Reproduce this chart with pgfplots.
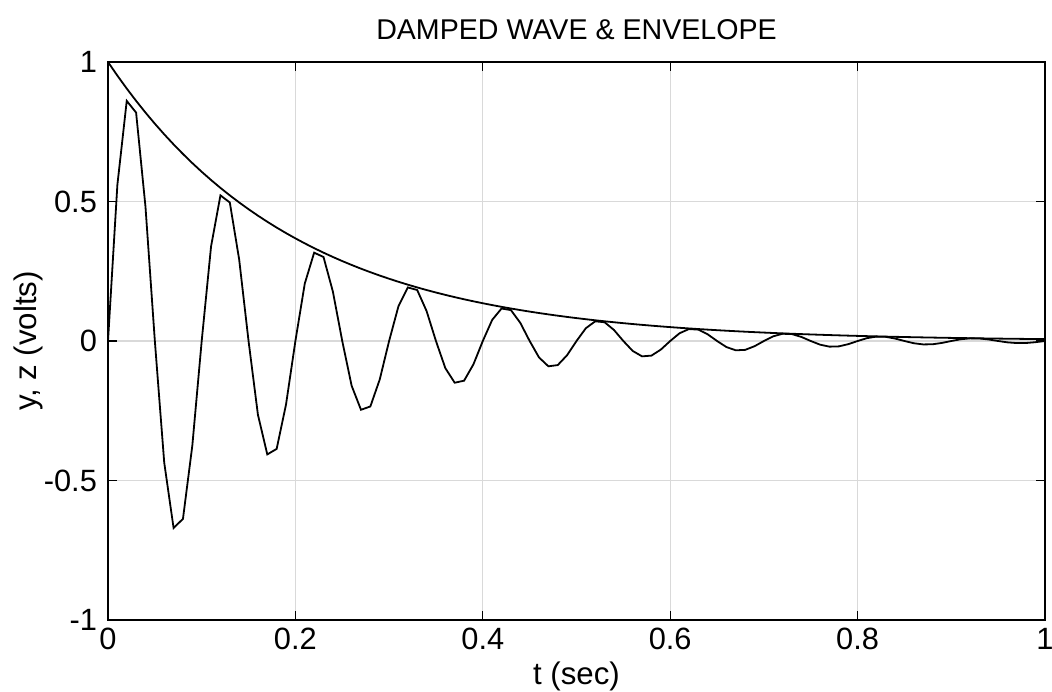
\documentclass[border=0pt]{standalone}
\usepackage{pgfplots}
\pgfplotsset{compat=1.18}
\usetikzlibrary{calc}
\usepackage{fontspec}
\setmainfont{Liberation Sans}
\definecolor{gridgray}{RGB}{217,217,217}
\begin{document}
\begin{tikzpicture}[x=1pt,y=1pt]
\begin{axis}[name=ax,
  scale only axis, width=468.5pt, height=279pt,
  xmin=0, xmax=1, ymin=-1, ymax=1,
  xtick={0,0.2,...,1}, ytick={-1,-0.5,0,0.5,1},
  xticklabels={0,0.2,0.4,0.6,0.8,1},
  yticklabels={-1,-0.5,0,0.5,1},
  tick align=inside, tick pos=both,
  major tick length=4.5pt,
  grid=major, major grid style={gridgray, line width=0.6pt},
  axis line style={line width=0.9pt},
  every tick/.style={black, line width=0.6pt},
  tick label style={font=\fontsize{15.4}{17}\selectfont},
  /pgf/number format/assume math mode=true,
  xticklabel style={yshift=-0.5pt},
  yticklabel style={xshift=-2pt},
  clip=false,
]
\addplot[black, line width=0.9pt] table {
x y
0.00 0
0.01 0.55912
0.02 0.86055
0.03 0.81858
0.04 0.48124
0.05 0
0.06 -0.43544
0.07 -0.67020
0.08 -0.63751
0.09 -0.37479
0.10 0
0.11 0.33912
0.12 0.52195
0.13 0.49650
0.14 0.29189
0.15 0
0.16 -0.26411
0.17 -0.40650
0.18 -0.38667
0.19 -0.22732
0.20 0
0.21 0.20569
0.22 0.31658
0.23 0.30114
0.24 0.17704
0.25 0
0.26 -0.16019
0.27 -0.24655
0.28 -0.23453
0.29 -0.13788
0.30 0
0.31 0.12476
0.32 0.19202
0.33 0.18265
0.34 0.10738
0.35 0
0.36 -0.09716
0.37 -0.14954
0.38 -0.14225
0.39 -0.08363
0.40 0
0.41 0.07567
0.42 0.11646
0.43 0.11078
0.44 0.06513
0.45 0
0.46 -0.05893
0.47 -0.09070
0.48 -0.08628
0.49 -0.05072
0.50 0
0.51 0.04590
0.52 0.07064
0.53 0.06719
0.54 0.03950
0.55 0
0.56 -0.03574
0.57 -0.05501
0.58 -0.05233
0.59 -0.03076
0.60 0
0.61 0.02784
0.62 0.04284
0.63 0.04075
0.64 0.02396
0.65 0
0.66 -0.02168
0.67 -0.03337
0.68 -0.03174
0.69 -0.01866
0.70 0
0.71 0.01688
0.72 0.02599
0.73 0.02472
0.74 0.01453
0.75 0
0.76 -0.01315
0.77 -0.02024
0.78 -0.01925
0.79 -0.01132
0.80 0
0.81 0.01024
0.82 0.01576
0.83 0.01499
0.84 0.00881
0.85 0
0.86 -0.00798
0.87 -0.01228
0.88 -0.01168
0.89 -0.00686
0.90 0
0.91 0.00621
0.92 0.00956
0.93 0.00909
0.94 0.00535
0.95 0
0.96 -0.00484
0.97 -0.00745
0.98 -0.00708
0.99 -0.00416
1.00 0
};
\addplot[black, line width=0.9pt] table {
x y
0.00 1
0.01 0.951229
0.02 0.904837
0.03 0.860708
0.04 0.818731
0.05 0.778801
0.06 0.740818
0.07 0.704688
0.08 0.670320
0.09 0.637628
0.10 0.606531
0.11 0.576950
0.12 0.548812
0.13 0.522046
0.14 0.496585
0.15 0.472367
0.16 0.449329
0.17 0.427415
0.18 0.406570
0.19 0.386741
0.20 0.367879
0.21 0.349938
0.22 0.332871
0.23 0.316637
0.24 0.301194
0.25 0.286505
0.26 0.272532
0.27 0.259240
0.28 0.246597
0.29 0.234570
0.30 0.223130
0.31 0.212248
0.32 0.201897
0.33 0.192050
0.34 0.182684
0.35 0.173774
0.36 0.165299
0.37 0.157237
0.38 0.149569
0.39 0.142274
0.40 0.135335
0.41 0.128735
0.42 0.122456
0.43 0.116484
0.44 0.110803
0.45 0.105399
0.46 0.100259
0.47 0.095369
0.48 0.090718
0.49 0.086294
0.50 0.082085
0.51 0.078082
0.52 0.074274
0.53 0.070651
0.54 0.067206
0.55 0.063928
0.56 0.060810
0.57 0.057844
0.58 0.055023
0.59 0.052340
0.60 0.049787
0.61 0.047359
0.62 0.045049
0.63 0.042852
0.64 0.040762
0.65 0.038774
0.66 0.036883
0.67 0.035084
0.68 0.033373
0.69 0.031746
0.70 0.030197
0.71 0.028725
0.72 0.027324
0.73 0.025991
0.74 0.024724
0.75 0.023518
0.76 0.022371
0.77 0.021280
0.78 0.020242
0.79 0.019255
0.80 0.018316
0.81 0.017422
0.82 0.016573
0.83 0.015764
0.84 0.014996
0.85 0.014264
0.86 0.013569
0.87 0.012907
0.88 0.012277
0.89 0.011679
0.90 0.011109
0.91 0.010567
0.92 0.010052
0.93 0.009562
0.94 0.009095
0.95 0.008652
0.96 0.008230
0.97 0.007828
0.98 0.007447
0.99 0.007083
1.00 0.006738
};
\end{axis}
\node[font=\fontsize{14.3}{16}\selectfont] at ($(ax.north)+(0,16pt)$) {DAMPED WAVE \& ENVELOPE};
\node[font=\fontsize{15.6}{17}\selectfont] at ($(ax.south)+(0,-28pt)$) {t (sec)};
\node[font=\fontsize{15.6}{17}\selectfont, rotate=90] at ($(ax.west)+(-40pt,0)$) {y, z (volts)};
\pgfresetboundingbox
\path[use as bounding box] ($(ax.south west)+(-54pt,-35.5pt)$) rectangle ($(ax.north east)+(3.5pt,31pt)$);
\end{tikzpicture}
\end{document}
